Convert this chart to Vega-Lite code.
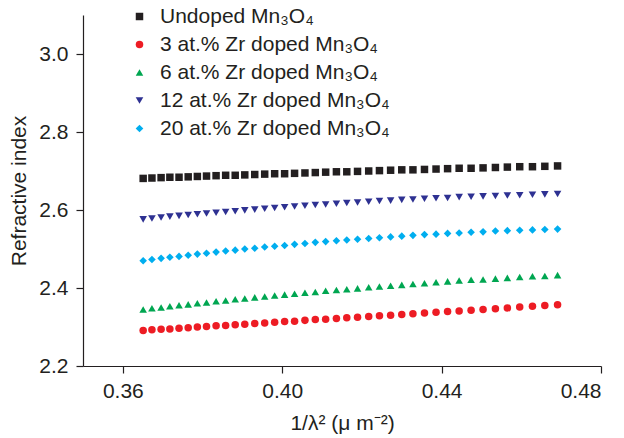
{
  "$schema": "https://vega.github.io/schema/vega-lite/v6.json",
  "width": 518,
  "height": 351,
  "autosize": "none",
  "padding": {"left": 83, "top": 15, "right": 23, "bottom": 72},
  "background": "white",
  "data": {"values": [
    {"x":0.3651,"u":2.681,"z3":2.291,"z6":2.345,"z12":2.576,"z20":2.470},
    {"x":0.3673,"u":2.682,"z3":2.293,"z6":2.348,"z12":2.578,"z20":2.473},
    {"x":0.3696,"u":2.683,"z3":2.294,"z6":2.350,"z12":2.581,"z20":2.476},
    {"x":0.3718,"u":2.684,"z3":2.295,"z6":2.353,"z12":2.583,"z20":2.479},
    {"x":0.3741,"u":2.684,"z3":2.297,"z6":2.356,"z12":2.585,"z20":2.481},
    {"x":0.3764,"u":2.685,"z3":2.298,"z6":2.358,"z12":2.587,"z20":2.484},
    {"x":0.3787,"u":2.686,"z3":2.300,"z6":2.361,"z12":2.589,"z20":2.487},
    {"x":0.3810,"u":2.687,"z3":2.301,"z6":2.363,"z12":2.591,"z20":2.489},
    {"x":0.3834,"u":2.688,"z3":2.303,"z6":2.366,"z12":2.593,"z20":2.492},
    {"x":0.3858,"u":2.689,"z3":2.304,"z6":2.368,"z12":2.595,"z20":2.495},
    {"x":0.3882,"u":2.689,"z3":2.306,"z6":2.371,"z12":2.597,"z20":2.497},
    {"x":0.3906,"u":2.690,"z3":2.307,"z6":2.373,"z12":2.599,"z20":2.500},
    {"x":0.3931,"u":2.691,"z3":2.309,"z6":2.376,"z12":2.601,"z20":2.502},
    {"x":0.3956,"u":2.692,"z3":2.310,"z6":2.378,"z12":2.603,"z20":2.505},
    {"x":0.3981,"u":2.693,"z3":2.312,"z6":2.381,"z12":2.605,"z20":2.507},
    {"x":0.4006,"u":2.693,"z3":2.314,"z6":2.383,"z12":2.607,"z20":2.509},
    {"x":0.4031,"u":2.694,"z3":2.315,"z6":2.385,"z12":2.609,"z20":2.512},
    {"x":0.4057,"u":2.695,"z3":2.317,"z6":2.388,"z12":2.611,"z20":2.514},
    {"x":0.4083,"u":2.696,"z3":2.319,"z6":2.390,"z12":2.613,"z20":2.517},
    {"x":0.4109,"u":2.697,"z3":2.320,"z6":2.393,"z12":2.614,"z20":2.519},
    {"x":0.4136,"u":2.698,"z3":2.322,"z6":2.395,"z12":2.616,"z20":2.521},
    {"x":0.4162,"u":2.698,"z3":2.324,"z6":2.397,"z12":2.618,"z20":2.523},
    {"x":0.4189,"u":2.699,"z3":2.325,"z6":2.399,"z12":2.619,"z20":2.525},
    {"x":0.4217,"u":2.700,"z3":2.327,"z6":2.402,"z12":2.621,"z20":2.527},
    {"x":0.4244,"u":2.701,"z3":2.329,"z6":2.404,"z12":2.623,"z20":2.529},
    {"x":0.4272,"u":2.702,"z3":2.330,"z6":2.406,"z12":2.624,"z20":2.531},
    {"x":0.4300,"u":2.703,"z3":2.332,"z6":2.408,"z12":2.626,"z20":2.533},
    {"x":0.4328,"u":2.703,"z3":2.334,"z6":2.410,"z12":2.627,"z20":2.535},
    {"x":0.4357,"u":2.704,"z3":2.336,"z6":2.412,"z12":2.629,"z20":2.537},
    {"x":0.4386,"u":2.705,"z3":2.338,"z6":2.415,"z12":2.630,"z20":2.538},
    {"x":0.4415,"u":2.706,"z3":2.340,"z6":2.417,"z12":2.631,"z20":2.540},
    {"x":0.4444,"u":2.707,"z3":2.341,"z6":2.419,"z12":2.633,"z20":2.541},
    {"x":0.4474,"u":2.707,"z3":2.343,"z6":2.421,"z12":2.634,"z20":2.543},
    {"x":0.4504,"u":2.708,"z3":2.345,"z6":2.422,"z12":2.635,"z20":2.544},
    {"x":0.4535,"u":2.709,"z3":2.347,"z6":2.424,"z12":2.636,"z20":2.546},
    {"x":0.4565,"u":2.710,"z3":2.349,"z6":2.426,"z12":2.637,"z20":2.547},
    {"x":0.4596,"u":2.711,"z3":2.351,"z6":2.428,"z12":2.638,"z20":2.548},
    {"x":0.4628,"u":2.711,"z3":2.353,"z6":2.430,"z12":2.639,"z20":2.549},
    {"x":0.4659,"u":2.712,"z3":2.355,"z6":2.431,"z12":2.640,"z20":2.550},
    {"x":0.4691,"u":2.713,"z3":2.357,"z6":2.433,"z12":2.641,"z20":2.551}
  ]},
  "transform": [
    {"fold": ["u", "z3", "z6", "z12", "z20"], "as": ["series", "n"]}
  ],
  "mark": {"type": "point", "filled": true, "opacity": 1, "strokeWidth": 0},
  "encoding": {
    "x": {
      "field": "x", "type": "quantitative",
      "scale": {"domain": [0.35, 0.48], "nice": false, "zero": false},
      "axis": {"values": [0.36, 0.40, 0.44, 0.48], "format": ".2f", "title": "1/λ² (μ m⁻²)", "labelPadding": 7, "titlePadding": 11}
    },
    "y": {
      "field": "n", "type": "quantitative",
      "scale": {"domain": [2.2, 3.1], "nice": false, "zero": false},
      "axis": {"values": [2.2, 2.4, 2.6, 2.8, 3.0], "format": ".1f", "title": "Refractive index", "labelPadding": 8, "titlePadding": 9}
    },
    "color": {
      "field": "series", "type": "nominal",
      "scale": {"domain": ["u", "z3", "z6", "z12", "z20"], "range": ["#231f20", "#ed1c24", "#00a651", "#2e3192", "#00aeef"]},
      "legend": {
        "title": null,
        "orient": "none",
        "legendX": 46,
        "legendY": -9,
        "labelExpr": "{'u':'Undoped Mn₃O₄','z3':'3 at.% Zr doped Mn₃O₄','z6':'6 at.% Zr doped Mn₃O₄','z12':'12 at.% Zr doped Mn₃O₄','z20':'20 at.% Zr doped Mn₃O₄'}[datum.label]"
      }
    },
    "shape": {
      "field": "series", "type": "nominal",
      "scale": {"domain": ["u", "z3", "z6", "z12", "z20"], "range": ["square", "circle", "triangle-up", "triangle-down", "diamond"]},
      "legend": {
        "title": null,
        "orient": "none",
        "legendX": 46,
        "legendY": -9,
        "labelExpr": "{'u':'Undoped Mn₃O₄','z3':'3 at.% Zr doped Mn₃O₄','z6':'6 at.% Zr doped Mn₃O₄','z12':'12 at.% Zr doped Mn₃O₄','z20':'20 at.% Zr doped Mn₃O₄'}[datum.label]"
      }
    },
    "size": {
      "field": "series", "type": "nominal",
      "scale": {"domain": ["u", "z3", "z6", "z12", "z20"], "range": [56, 58, 84, 84, 92]},
      "legend": null
    }
  },
  "config": {
    "view": {"stroke": null},
    "font": "Liberation Sans",
    "axis": {
      "grid": false,
      "domainColor": "#231f20",
      "tickColor": "#231f20",
      "labelColor": "#231f20",
      "titleColor": "#231f20",
      "labelFont": "Liberation Sans",
      "titleFont": "Liberation Sans",
      "labelFontSize": 21,
      "titleFontSize": 21,
      "titleFontWeight": "normal",
      "tickSize": 7,
      "domainWidth": 1.2,
      "tickWidth": 1.2
    },
    "legend": {
      "labelFont": "Liberation Sans",
      "labelFontSize": 21,
      "labelColor": "#231f20",
      "symbolSize": 45,
      "symbolStrokeWidth": 0,
      "labelOffset": 10,
      "rowPadding": 6,
      "padding": 0,
      "labelLimit": 400
    }
  }
}
